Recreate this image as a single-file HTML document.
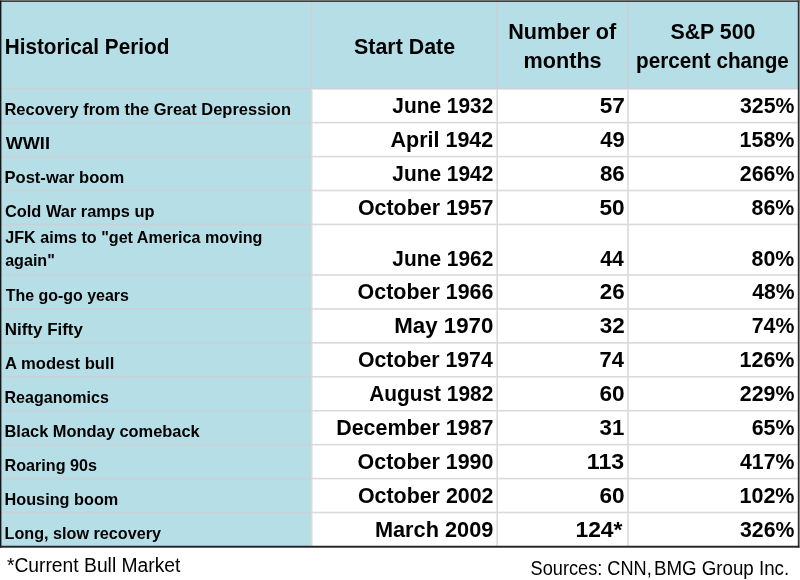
<!DOCTYPE html>
<html lang="en">
<head>
<meta charset="utf-8">
<title>Historical bull markets</title>
<style>
html,body{margin:0;padding:0;background:#fff}
#page{position:relative;width:800px;height:580px;overflow:hidden;background:#fff;font-family:"Liberation Sans",Arial,Helvetica,sans-serif;color:#000}
#bg{position:absolute;left:0;top:0;width:800px;height:580px}
table{position:absolute;left:0;top:0;width:800px;border-collapse:collapse;border-spacing:0;table-layout:fixed}
th,td{padding:0;margin:0;border:0;white-space:nowrap;overflow:visible;font-weight:bold;vertical-align:bottom}
th{font-size:22.0px;line-height:29px;vertical-align:middle;text-align:center;padding-top:3px}
th.l{text-align:left;padding-left:5px}
td.p{font-size:15.9px;line-height:23px;text-align:left;padding:0 0 2px 5px}
td.d{font-size:21.8px;line-height:24px;text-align:right;padding:0 4px 5px 0}
td.d.c4{padding-right:5px}
.t{display:inline-block;white-space:nowrap}
.blk{display:block}
.ol{transform-origin:0 50%}
.or{transform-origin:100% 50%}
.oc{transform-origin:50% 50%}
.foot{position:absolute;font-size:19.6px;line-height:22px;font-weight:normal;white-space:nowrap}
#f1{left:7px;top:554px}
#f2{right:11px;top:556px;text-align:right}
</style>
</head>
<body>
<div id="page">

<svg id="bg" width="800" height="580" viewBox="0 0 800 580" aria-hidden="true">
<rect x="0" y="0" width="800" height="580" fill="#fff"/>
<rect x="1" y="1" width="797.5" height="87.70" fill="#b6dee7"/>
<rect x="1" y="88.70" width="310.70" height="457.74" fill="#b6dee7"/>
<rect x="1.4" y="87.90" width="310.30" height="1.60" fill="#c9d1d5"/>
<rect x="311.70" y="87.90" width="486.10" height="1.60" fill="#c9d1d5"/>
<rect x="1.4" y="121.83" width="310.30" height="1.60" fill="#c9d1d5"/>
<rect x="311.70" y="121.83" width="486.10" height="1.60" fill="#dadada"/>
<rect x="1.4" y="155.76" width="310.30" height="1.60" fill="#c9d1d5"/>
<rect x="311.70" y="155.76" width="486.10" height="1.60" fill="#dadada"/>
<rect x="1.4" y="189.69" width="310.30" height="1.60" fill="#c9d1d5"/>
<rect x="311.70" y="189.69" width="486.10" height="1.60" fill="#dadada"/>
<rect x="1.4" y="223.62" width="310.30" height="1.60" fill="#c9d1d5"/>
<rect x="311.70" y="223.62" width="486.10" height="1.60" fill="#dadada"/>
<rect x="1.4" y="274.20" width="310.30" height="1.60" fill="#c9d1d5"/>
<rect x="311.70" y="274.20" width="486.10" height="1.60" fill="#dadada"/>
<rect x="1.4" y="308.13" width="310.30" height="1.60" fill="#c9d1d5"/>
<rect x="311.70" y="308.13" width="486.10" height="1.60" fill="#dadada"/>
<rect x="1.4" y="342.06" width="310.30" height="1.60" fill="#c9d1d5"/>
<rect x="311.70" y="342.06" width="486.10" height="1.60" fill="#dadada"/>
<rect x="1.4" y="375.99" width="310.30" height="1.60" fill="#c9d1d5"/>
<rect x="311.70" y="375.99" width="486.10" height="1.60" fill="#dadada"/>
<rect x="1.4" y="409.92" width="310.30" height="1.60" fill="#c9d1d5"/>
<rect x="311.70" y="409.92" width="486.10" height="1.60" fill="#dadada"/>
<rect x="1.4" y="443.85" width="310.30" height="1.60" fill="#c9d1d5"/>
<rect x="311.70" y="443.85" width="486.10" height="1.60" fill="#dadada"/>
<rect x="1.4" y="477.78" width="310.30" height="1.60" fill="#c9d1d5"/>
<rect x="311.70" y="477.78" width="486.10" height="1.60" fill="#dadada"/>
<rect x="1.4" y="511.71" width="310.30" height="1.60" fill="#c9d1d5"/>
<rect x="311.70" y="511.71" width="486.10" height="1.60" fill="#dadada"/>
<rect x="310.90" y="1.75" width="1.60" height="86.95" fill="#c9d1d5"/>
<rect x="310.90" y="88.70" width="1.60" height="457.74" fill="#dadada"/>
<rect x="496.40" y="1.75" width="1.60" height="86.95" fill="#c9d1d5"/>
<rect x="496.40" y="88.70" width="1.60" height="457.74" fill="#dadada"/>
<rect x="627.20" y="1.75" width="1.60" height="86.95" fill="#c9d1d5"/>
<rect x="627.20" y="88.70" width="1.60" height="457.74" fill="#dadada"/>
<rect x="0" y="0" width="800" height="1" fill="#7d7d7d"/>
<rect x="799.3" y="0" width="0.7" height="547.7" fill="#8a8a8a"/>
<rect x="0" y="0.9" width="799.3" height="0.9" fill="#1c1c1c"/>
<rect x="0" y="0.6" width="1.4" height="547.1" fill="#161616"/>
<rect x="797.8" y="0.6" width="1.5" height="547.1" fill="#303030"/>
<rect x="0" y="545.75" width="799.3" height="1.95" fill="#242424"/>
</svg>
<table>
<colgroup><col style="width:312px"><col style="width:185px"><col style="width:131px"><col style="width:172px"></colgroup>
<thead><tr style="height:89px">
<th class="l"><span id="h1_0" class="t ol" style="transform:translate(-0.29px,0.40px) scaleX(0.9415)">Historical Period</span></th>
<th><span id="h2_0" class="t oc" style="transform:translate(-0.37px,0.25px) scaleX(0.9720)">Start Date</span></th>
<th><span id="h3_0" class="t oc blk" style="transform:translate(-0.27px,-0.25px) scaleX(0.9817)">Number of</span><span id="h3_1" class="t oc blk" style="transform:translate(0.10px,-0.50px) scaleX(0.9837)">months</span></th>
<th><span id="h4_0" class="t oc blk" style="transform:translate(-1.06px,-0.25px) scaleX(0.9701)">S&amp;P 500</span><span id="h4_1" class="t oc blk" style="transform:translate(-1.55px,-0.50px) scaleX(0.9400)">percent change</span></th>
</tr></thead>
<tbody>
<tr style="height:34px">
<td class="p"><span id="r0_a" class="t ol" style="transform:translate(-0.52px,-0.07px) scaleX(1.0365)">Recovery from the Great Depression</span></td>
<td class="d"><span id="r0_b" class="t or" style="transform:translate(-0.08px,0.13px) scaleX(0.9583)">June 1932</span></td>
<td class="d"><span id="r0_c" class="t or" style="transform:translate(0.55px,0.13px) scaleX(1.0368)">57</span></td>
<td class="d c4"><span id="r0_d" class="t or" style="transform:translate(-0.36px,0.13px) scaleX(0.9746)">325%</span></td>
</tr>
<tr style="height:34px">
<td class="p"><span id="r1_a" class="t ol" style="transform:translate(0.72px,-0.14px) scaleX(1.1384)">WWII</span></td>
<td class="d"><span id="r1_b" class="t or" style="transform:translate(0.10px,0.06px) scaleX(0.9867)">April 1942</span></td>
<td class="d"><span id="r1_c" class="t or" style="transform:translate(0.47px,0.06px) scaleX(1.0091)">49</span></td>
<td class="d c4"><span id="r1_d" class="t or" style="transform:translate(-0.28px,0.06px) scaleX(0.9867)">158%</span></td>
</tr>
<tr style="height:33px">
<td class="p"><span id="r2_a" class="t ol" style="transform:translate(-0.53px,0.79px) scaleX(1.0426)">Post-war boom</span></td>
<td class="d"><span id="r2_b" class="t or" style="transform:translate(-0.08px,0.99px) scaleX(0.9583)">June 1942</span></td>
<td class="d"><span id="r2_c" class="t or" style="transform:translate(0.47px,0.99px) scaleX(1.0243)">86</span></td>
<td class="d c4"><span id="r2_d" class="t or" style="transform:translate(-0.40px,0.99px) scaleX(0.9786)">266%</span></td>
</tr>
<tr style="height:34px">
<td class="p"><span id="r3_a" class="t ol" style="transform:translate(-0.02px,0.72px) scaleX(1.0307)">Cold War ramps up</span></td>
<td class="d"><span id="r3_b" class="t or" style="transform:translate(0.39px,0.92px) scaleX(0.9814)">October 1957</span></td>
<td class="d"><span id="r3_c" class="t or" style="transform:translate(0.44px,0.92px) scaleX(1.0371)">50</span></td>
<td class="d c4"><span id="r3_d" class="t or" style="transform:translate(-0.36px,0.92px) scaleX(0.9789)">86%</span></td>
</tr>
<tr style="height:51px">
<td class="p"><span id="r4_a0" class="t ol blk" style="transform:translate(0.24px,-1.50px) scaleX(1.0150)">JFK aims to "get America moving</span><span id="r4_a1" class="t ol blk" style="transform:translate(0.15px,-0.75px) scaleX(1.0134)">again"</span></td>
<td class="d"><span id="r4_b" class="t or" style="transform:translate(-0.08px,0.50px) scaleX(0.9583)">June 1962</span></td>
<td class="d"><span id="r4_c" class="t or" style="transform:translate(-0.38px,0.50px) scaleX(0.9708)">44</span></td>
<td class="d c4"><span id="r4_d" class="t or" style="transform:translate(-0.36px,0.50px) scaleX(0.9789)">80%</span></td>
</tr>
<tr style="height:34px">
<td class="p"><span id="r5_a" class="t ol" style="transform:translate(0.66px,0.23px) scaleX(1.0040)">The go-go years</span></td>
<td class="d"><span id="r5_b" class="t or" style="transform:translate(0.26px,0.43px) scaleX(0.9829)">October 1966</span></td>
<td class="d"><span id="r5_c" class="t or" style="transform:translate(0.43px,0.43px) scaleX(1.0255)">26</span></td>
<td class="d c4"><span id="r5_d" class="t or" style="transform:translate(-0.18px,0.43px) scaleX(0.9679)">48%</span></td>
</tr>
<tr style="height:34px">
<td class="p"><span id="r6_a" class="t ol" style="transform:translate(-0.22px,0.16px) scaleX(1.0664)">Nifty Fifty</span></td>
<td class="d"><span id="r6_b" class="t or" style="transform:translate(0.43px,0.36px) scaleX(1.0225)">May 1970</span></td>
<td class="d"><span id="r6_c" class="t or" style="transform:translate(0.40px,0.36px) scaleX(1.0292)">32</span></td>
<td class="d c4"><span id="r6_d" class="t or" style="transform:translate(-0.25px,0.36px) scaleX(0.9769)">74%</span></td>
</tr>
<tr style="height:34px">
<td class="p"><span id="r7_a" class="t ol" style="transform:translate(0.04px,0.09px) scaleX(1.0454)">A modest bull</span></td>
<td class="d"><span id="r7_b" class="t or" style="transform:translate(-0.38px,0.29px) scaleX(0.9759)">October 1974</span></td>
<td class="d"><span id="r7_c" class="t or" style="transform:translate(-0.41px,0.29px) scaleX(1.0045)">74</span></td>
<td class="d c4"><span id="r7_d" class="t or" style="transform:translate(-0.28px,0.29px) scaleX(0.9867)">126%</span></td>
</tr>
<tr style="height:34px">
<td class="p"><span id="r8_a" class="t ol" style="transform:translate(-0.46px,0.02px) scaleX(1.0095)">Reaganomics</span></td>
<td class="d"><span id="r8_b" class="t or" style="transform:translate(0.71px,0.22px) scaleX(0.9580)">August 1982</span></td>
<td class="d"><span id="r8_c" class="t or" style="transform:translate(0.43px,0.22px) scaleX(1.0373)">60</span></td>
<td class="d c4"><span id="r8_d" class="t or" style="transform:translate(-0.40px,0.22px) scaleX(0.9786)">229%</span></td>
</tr>
<tr style="height:34px">
<td class="p"><span id="r9_a" class="t ol" style="transform:translate(-0.51px,-0.05px) scaleX(1.0331)">Black Monday comeback</span></td>
<td class="d"><span id="r9_b" class="t or" style="transform:translate(0.55px,0.15px) scaleX(0.9837)">December 1987</span></td>
<td class="d"><span id="r9_c" class="t or" style="transform:translate(0.06px,0.15px) scaleX(1.0204)">31</span></td>
<td class="d c4"><span id="r9_d" class="t or" style="transform:translate(-0.26px,0.15px) scaleX(0.9781)">65%</span></td>
</tr>
<tr style="height:34px">
<td class="p"><span id="r10_a" class="t ol" style="transform:translate(-0.48px,-0.12px) scaleX(1.0169)">Roaring 90s</span></td>
<td class="d"><span id="r10_b" class="t or" style="transform:translate(0.27px,0.08px) scaleX(0.9831)">October 1990</span></td>
<td class="d"><span id="r10_c" class="t or" style="transform:translate(-0.00px,0.08px) scaleX(1.0634)">113</span></td>
<td class="d c4"><span id="r10_d" class="t or" style="transform:translate(-0.40px,0.08px) scaleX(0.9745)">417%</span></td>
</tr>
<tr style="height:34px">
<td class="p"><span id="r11_a" class="t ol" style="transform:translate(-0.49px,-0.19px) scaleX(1.0227)">Housing boom</span></td>
<td class="d"><span id="r11_b" class="t or" style="transform:translate(0.37px,0.01px) scaleX(0.9817)">October 2002</span></td>
<td class="d"><span id="r11_c" class="t or" style="transform:translate(0.43px,0.01px) scaleX(1.0373)">60</span></td>
<td class="d c4"><span id="r11_d" class="t or" style="transform:translate(-0.28px,0.01px) scaleX(0.9867)">102%</span></td>
</tr>
<tr style="height:33px">
<td class="p"><span id="r12_a" class="t ol" style="transform:translate(-0.48px,0.74px) scaleX(1.0186)">Long, slow recovery</span></td>
<td class="d"><span id="r12_b" class="t or" style="transform:translate(0.58px,0.94px) scaleX(0.9972)">March 2009</span></td>
<td class="d"><span id="r12_c" class="t or" style="transform:translate(-1.38px,0.94px) scaleX(1.0487)">124*</span></td>
<td class="d c4"><span id="r12_d" class="t or" style="transform:translate(-0.36px,0.94px) scaleX(0.9746)">326%</span></td>
</tr>
</tbody></table>
<div class="foot" id="f1"><span id="f_0" class="t ol" style="transform:translate(-0.12px,0.40px) scaleX(0.9839)">*Current Bull Market</span></div>
<div class="foot" id="f2"><span id="f_1" class="t or" style="transform:translate(10.11px,0.50px) scaleX(0.9272)">Sources: CNN,</span> <span id="f_2" class="t or" style="transform:translate(0.59px,0.50px) scaleX(0.9552)">BMG Group Inc.</span></div>
</div>
</body>
</html>
